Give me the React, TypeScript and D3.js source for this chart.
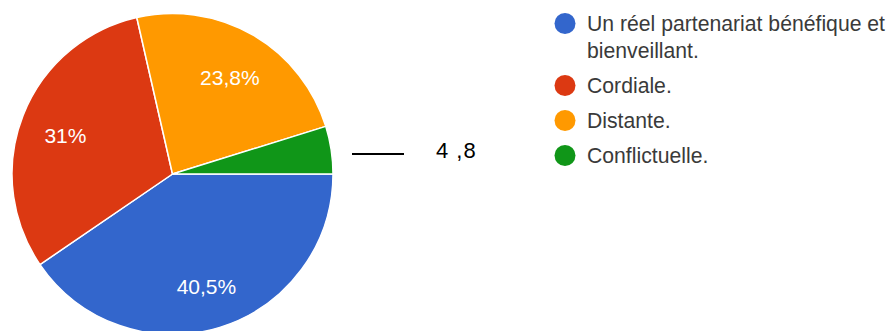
import React from "react";
import * as d3 from "d3";

const categories = [
  "Un réel partenariat bénéfique et bienveillant.",
  "Cordiale.",
  "Distante.",
  "Conflictuelle.",
];
const legendLines = [
  ["Un réel partenariat bénéfique et", "bienveillant."],
  ["Cordiale."],
  ["Distante."],
  ["Conflictuelle."],
];
const values = [40.5, 31, 23.8, 4.8];
const sliceLabels = ["40,5%", "31%", "23,8%", ""];
const colors = ["#3366CC", "#DC3912", "#FF9900", "#109618"];
const annotationText = "4 ,8";

const W = 893;
const H = 331;
const FONT = "Arial, 'Liberation Sans', sans-serif";

export default function App() {
  const cx = 172.5;
  const cy = 174;
  const R = 160.5;
  const labelR = 115;

  const pie = d3
    .pie<number>()
    .sort(null)
    .value((d) => d)
    .startAngle(Math.PI / 2)
    .endAngle(Math.PI / 2 + 2 * Math.PI);
  const arcs = pie(values);
  const arc = d3.arc<d3.PieArcDatum<number>>().innerRadius(0).outerRadius(R);
  const labelArc = d3
    .arc<d3.PieArcDatum<number>>()
    .innerRadius(labelR)
    .outerRadius(labelR);

  // legend layout
  const legendX = 565;
  const textX = 587;
  const lineH = 27;
  const entryGap = 35;
  let y = 31;
  const legendItems = legendLines.map((lines, i) => {
    const baseY = y;
    y += (lines.length - 1) * lineH + entryGap;
    return { lines, baseY, i };
  });

  return (
    <div style={{ position: "absolute", left: 0, top: 0 }}>
      <svg width={W} height={H} style={{ display: "block", background: "#fff" }}>
        <g transform={`translate(${cx},${cy})`}>
          {arcs.map((a, i) => (
            <path
              key={categories[i]}
              d={arc(a) || ""}
              fill={colors[i]}
              stroke="#fff"
              strokeWidth={1.5}
            />
          ))}
          {arcs.map((a, i) => {
            if (!sliceLabels[i]) return null;
            const [lx, ly] = labelArc.centroid(a);
            return (
              <text
                key={"l" + i}
                x={lx}
                y={ly + 3}
                textAnchor="middle"
                dominantBaseline="central"
                fill="#fff"
                fontFamily={FONT}
                fontSize={21}
              >
                {sliceLabels[i]}
              </text>
            );
          })}
        </g>
        <line x1={352} x2={404} y1={154} y2={154} stroke="#000" strokeWidth={2} />
        <text x={436} y={158} fontFamily={FONT} fontSize={22} fill="#000" letterSpacing={1}>
          {annotationText}
        </text>
        {legendItems.map(({ lines, baseY, i }) => (
          <g key={"lg" + i}>
            <circle cx={legendX} cy={baseY - 7.5} r={10.5} fill={colors[i]} />
            {lines.map((t, j) => (
              <text
                key={j}
                x={textX}
                y={baseY + j * lineH}
                fontFamily={FONT}
                fontSize={21.2}
                fill="#3a3a3a"
              >
                {t}
              </text>
            ))}
          </g>
        ))}
      </svg>
    </div>
  );
}
